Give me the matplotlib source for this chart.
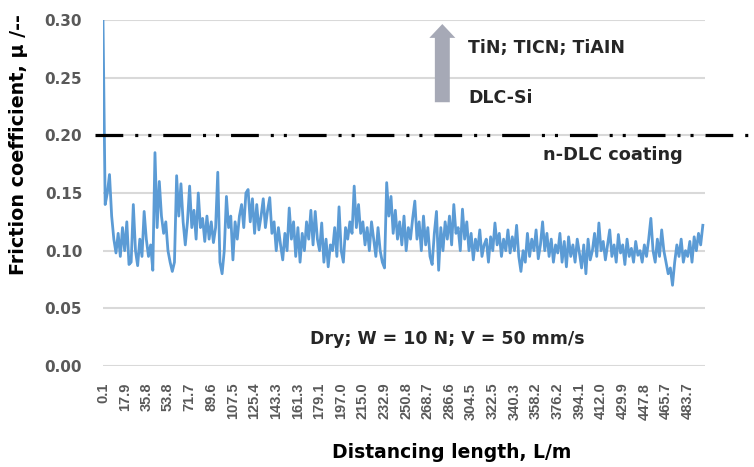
import numpy as np
import matplotlib
matplotlib.use("Agg")
import matplotlib.pyplot as plt
from matplotlib.patches import FancyArrow

plt.rcParams['font.family'] = ['DejaVu Sans']
plt.rcParams['lines.scale_dashes'] = False

# Category tick labels (distance, m) - one label every 10 data points
tick_labels = ["0.1", "17.9", "35.8", "53.8", "71.7", "89.6", "107.5", "125.4",
               "143.3", "161.3", "179.1", "197.0", "215.0", "232.9", "250.8",
               "268.7", "286.6", "304.5", "322.5", "340.3", "358.2", "376.2",
               "394.1", "412.0", "429.9", "447.8", "465.7", "483.7"]

# Friction coefficient values
mu = [
    0.30, 0.14, 0.15, 0.166, 0.13, 0.11, 0.098, 0.115, 0.095, 0.12,
    0.10, 0.125, 0.088, 0.09, 0.14, 0.10, 0.087, 0.11, 0.095, 0.134,
    0.11, 0.095, 0.105, 0.083, 0.185, 0.12, 0.16, 0.13, 0.115, 0.125,
    0.10, 0.09, 0.082, 0.09, 0.165, 0.13, 0.158, 0.125, 0.105, 0.125,
    0.156, 0.12, 0.135, 0.11, 0.15, 0.12, 0.128, 0.108, 0.13, 0.11,
    0.125, 0.107, 0.12, 0.168, 0.09, 0.08, 0.10, 0.147, 0.12, 0.13,
    0.092, 0.125, 0.11, 0.13, 0.14, 0.12, 0.15, 0.153, 0.125, 0.145,
    0.115, 0.14, 0.118, 0.13, 0.145, 0.12, 0.135, 0.146, 0.115, 0.125,
    0.10, 0.12, 0.105, 0.092, 0.115, 0.10, 0.137, 0.11, 0.125, 0.095,
    0.12, 0.09, 0.115, 0.10, 0.125, 0.11, 0.135, 0.105, 0.134, 0.11,
    0.10, 0.124, 0.09, 0.11, 0.086, 0.105, 0.10, 0.12, 0.095, 0.138,
    0.10, 0.09, 0.12, 0.11, 0.125, 0.115, 0.156, 0.12, 0.14, 0.115,
    0.125, 0.105, 0.12, 0.10, 0.125, 0.11, 0.095, 0.12, 0.10, 0.09,
    0.085, 0.159, 0.13, 0.147, 0.115, 0.135, 0.11, 0.125, 0.105, 0.13,
    0.10, 0.12, 0.11, 0.128, 0.143, 0.11, 0.125, 0.10, 0.13, 0.105,
    0.12, 0.095, 0.088, 0.115, 0.134, 0.083, 0.12, 0.10, 0.125, 0.11,
    0.13, 0.105, 0.14, 0.115, 0.12, 0.10, 0.136, 0.11, 0.125, 0.10,
    0.115, 0.092, 0.11, 0.10, 0.118, 0.095, 0.105, 0.11, 0.09, 0.112,
    0.10, 0.124, 0.105, 0.115, 0.095, 0.11, 0.10, 0.118, 0.098, 0.112,
    0.10, 0.122, 0.095, 0.082, 0.10, 0.09, 0.115, 0.095, 0.11, 0.10,
    0.118, 0.093, 0.105, 0.125, 0.10, 0.115, 0.095, 0.11, 0.09, 0.105,
    0.098, 0.115, 0.09, 0.108, 0.086, 0.112, 0.095, 0.105, 0.09, 0.11,
    0.098, 0.085, 0.105, 0.08, 0.11, 0.092, 0.10, 0.115, 0.095, 0.124,
    0.10, 0.108, 0.092, 0.105, 0.118, 0.095, 0.105, 0.09, 0.114, 0.098,
    0.105, 0.088, 0.11, 0.095, 0.102, 0.09, 0.108, 0.096, 0.10, 0.09,
    0.105, 0.095, 0.11, 0.128, 0.10, 0.09, 0.11, 0.095, 0.118, 0.10,
    0.09, 0.08, 0.085, 0.07, 0.09, 0.105, 0.095, 0.11, 0.09, 0.10,
    0.095, 0.108, 0.09, 0.112, 0.10, 0.115, 0.105, 0.122,
]

ref_level = 0.20          # n-DLC coating reference line
yticks = [0.00, 0.05, 0.10, 0.15, 0.20, 0.25, 0.30]

fig = plt.figure(figsize=(7.54, 4.67), dpi=100)
ax = fig.add_axes([103/754, 1-366/467, 602/754, 346/467])

idx = np.arange(len(mu))
ax.plot(idx, mu, color='#5b9bd5', lw=2.0, zorder=3)

ax.set_xlim(0, 278)
ax.set_ylim(0, 0.30)
ax.set_yticks(yticks)
ax.set_yticklabels([f"{v:.2f}" for v in yticks], fontsize=11,
                   fontweight='bold', color='#595959')
ax.set_xticks(idx[::10][:len(tick_labels)])
ax.set_xticklabels(tick_labels, rotation=90, fontsize=10.5,
                   fontweight='bold', color='#595959', family='Liberation Sans')
ax.tick_params(axis='both', length=0)
ax.tick_params(axis='y', pad=15)
ax.tick_params(axis='x', pad=12)
ax.grid(axis='y', color='#d9d9d9', lw=1.5, zorder=0)
for s in ax.spines.values():
    s.set_visible(False)

# reference dash-dot-dot line
ln = ax.axhline(ref_level, xmin=-0.013, xmax=1.078, color='black', lw=2.3,
                clip_on=False, zorder=4)
ln.set_dashes((20, 8.6, 2.2, 7.2, 2.2, 8.6))
ln.set_dash_capstyle('butt')

# arrow
arr = FancyArrow(156.7, 0.2287, 0, 0.0678, width=6.9, head_width=12.0,
                 head_length=0.012, length_includes_head=True,
                 color='#a6a9b6', lw=0, clip_on=False, zorder=4)
ax.add_patch(arr)

tc = '#262626'
ax.text(168.5, 0.271, "TiN; TICN; TiAIN", fontsize=12.5, fontweight='bold',
        color=tc, ha='left', va='baseline')
ax.text(168.5, 0.2284, "DLC-Si", fontsize=12.5, fontweight='bold',
        color=tc, ha='left', va='baseline')
ax.text(203, 0.179, "n-DLC coating", fontsize=12.8, fontweight='bold',
        color=tc, ha='left', va='baseline')
ax.text(95.6, 0.0189, "Dry; W = 10 N; V = 50 mm/s", fontsize=12.5,
        fontweight='bold', color=tc, ha='left', va='baseline')

fig.text(19/754, 1-145/467, "Friction coefficient, μ /--", rotation=90,
         fontsize=13.8, fontweight='bold', color='black', ha='center', va='center')
fig.text(452/754, 1-453/467, "Distancing length, L/m", fontsize=13.5,
         fontweight='bold', color='black', ha='center', va='center')

fig.savefig("out.png", dpi=100)
